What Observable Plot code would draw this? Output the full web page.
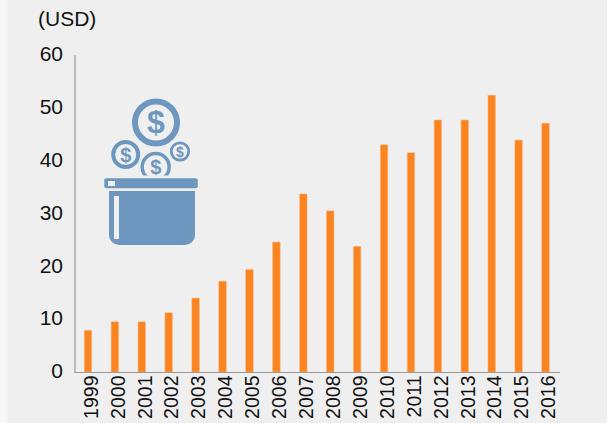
<!DOCTYPE html>
<html>
<head>
<meta charset="utf-8">
<script src="https://cdn.jsdelivr.net/npm/d3@7"></script>
<script src="https://cdn.jsdelivr.net/npm/@observablehq/plot@0.6"></script>
<style>
html,body{margin:0;padding:0;background:#f8f8f8;}
#wrap{position:relative;width:612px;height:423px;overflow:hidden;font-family:"Liberation Sans",Arial,sans-serif;}
#panel{position:absolute;left:7px;top:0;width:600px;height:423px;background:#efefef;}
#right{position:absolute;left:607px;top:0;width:5px;height:423px;background:#fff;}
#chart{position:absolute;left:0;top:0;}
#unit{position:absolute;left:38px;top:7px;font-size:21px;line-height:24px;color:#111;}
#icon{position:absolute;left:0;top:0;}
</style>
</head>
<body>
<div id="wrap">
<div id="panel"></div><div id="right"></div>
<div id="chart"></div>
<div id="unit">(USD)</div>
<svg id="icon" width="612" height="423" font-family="Liberation Sans,Arial,sans-serif" font-weight="bold" text-anchor="middle" fill="#6e97bf">
  <defs><clipPath id="cut"><rect x="130" y="140" width="50" height="35.5"/></clipPath></defs>
  <g fill="none" stroke="#6e97bf">
    <circle cx="156" cy="122.5" r="21" stroke-width="6"/>
    <circle cx="125.7" cy="154.5" r="12.5" stroke-width="4"/>
    <circle cx="180" cy="151.5" r="8.7" stroke-width="2.8"/>
    <circle cx="155.7" cy="167" r="13.5" stroke-width="3.5" clip-path="url(#cut)"/>
  </g>
  <text x="156" y="133" font-size="32">$</text>
  <text x="125.7" y="161.5" font-size="20">$</text>
  <text x="180" y="156.5" font-size="14">$</text>
  <text x="155.7" y="174" font-size="20" clip-path="url(#cut)">$</text>
  <rect x="104.3" y="178.3" width="93.4" height="10" rx="2"/>
  <rect x="108" y="181" width="7" height="5" fill="#efefef"/>
  <path d="M109 191H195V235a10 10 0 0 1 -10 10H119a10 10 0 0 1 -10 -10Z"/>
  <rect x="114" y="196" width="5" height="43" fill="#efefef"/>
</svg>
</div>
<script>
const years = ["1999","2000","2001","2002","2003","2004","2005","2006","2007","2008","2009","2010","2011","2012","2013","2014","2015","2016"];
const values = [7.9,9.5,9.5,11.2,14,17.2,19.4,24.6,33.7,30.5,23.8,43,41.5,47.7,47.7,52.4,43.9,47.1];
const yTicks = [0,10,20,30,40,50,60];
const table = years.map((year,i)=>({year,value:values[i]}));
const chart = Plot.plot({
  width:612,height:423,
  marginLeft:74.5,marginRight:53,marginTop:55,marginBottom:51,
  style:{background:"transparent",fontFamily:'"Liberation Sans",Arial,sans-serif',color:"#111",overflow:"visible"},
  x:{domain:years,paddingInner:0.72,paddingOuter:0.36,round:false,label:null},
  y:{domain:[0,60],label:null},
  marks:[
    Plot.barY(table,{x:"year",y:"value",fill:"#fa8420",stroke:"#fbb98a",strokeWidth:0.5}),
    Plot.axisY({ticks:yTicks,tickSize:0,tickPadding:12,fontSize:21,dy:-1,label:null,stroke:"none"}),
    Plot.axisX({tickSize:0,tickRotate:-90,tickPadding:3,fontSize:19.5,dx:3,label:null,stroke:"none"}),
    Plot.frame({anchor:"left",stroke:"#999",strokeWidth:1.2}),
    Plot.frame({anchor:"bottom",stroke:"#999",strokeWidth:1.2})
  ]
});
document.getElementById("chart").appendChild(chart);
</script>
</body>
</html>
